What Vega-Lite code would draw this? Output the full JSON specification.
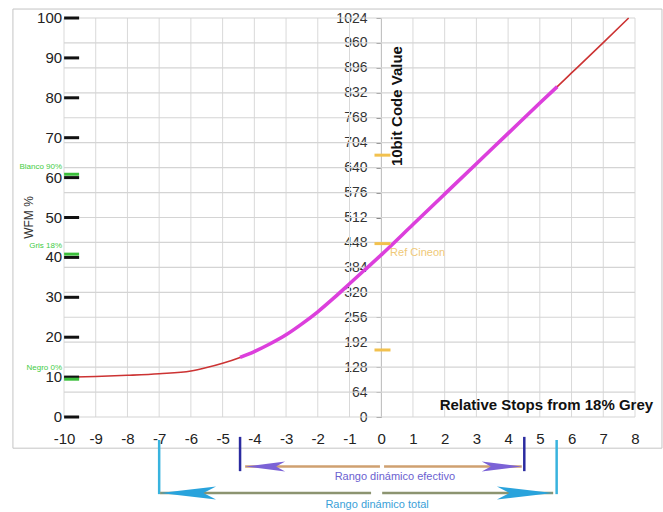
{
  "$schema": "https://vega.github.io/schema/vega-lite/v6.json",
  "autosize": {"type": "none"},
  "padding": {"left": 64, "top": 18, "right": 28, "bottom": 95},
  "width": 571,
  "height": 399,
  "config": {"font": "Liberation Sans", "view": {"stroke": null}, "background": "white"},
  "resolve": {"axis": {"x": "independent", "y": "independent"}},
  "datasets": {
    "curve": [
      {"stop": -10, "code": 102}, {"stop": -9, "code": 104}, {"stop": -8, "code": 107},
      {"stop": -7, "code": 111}, {"stop": -6, "code": 118}, {"stop": -5.5, "code": 127},
      {"stop": -5, "code": 138}, {"stop": -4.45, "code": 153}, {"stop": -4, "code": 168},
      {"stop": -3.5, "code": 188}, {"stop": -3, "code": 211}, {"stop": -2.5, "code": 239},
      {"stop": -2, "code": 270}, {"stop": -1.5, "code": 305}, {"stop": -1, "code": 342},
      {"stop": -0.5, "code": 379}, {"stop": 0, "code": 416}, {"stop": 1, "code": 494},
      {"stop": 2, "code": 572}, {"stop": 3, "code": 650}, {"stop": 4, "code": 728},
      {"stop": 5, "code": 806}, {"stop": 5.55, "code": 848}, {"stop": 6, "code": 883},
      {"stop": 7, "code": 961}, {"stop": 7.8, "code": 1024}
    ],
    "wfm": [
      {"s": -9.76, "code": 0, "wfm": "0"}, {"s": -9.76, "code": 102.4, "wfm": "10"}, {"s": -9.76, "code": 204.8, "wfm": "20"},
      {"s": -9.76, "code": 307.2, "wfm": "30"}, {"s": -9.76, "code": 409.6, "wfm": "40"}, {"s": -9.76, "code": 512, "wfm": "50"},
      {"s": -9.76, "code": 614.4, "wfm": "60"}, {"s": -9.76, "code": 716.8, "wfm": "70"}, {"s": -9.76, "code": 819.2, "wfm": "80"},
      {"s": -9.76, "code": 921.6, "wfm": "90"}, {"s": -9.76, "code": 1024, "wfm": "100"}
    ],
    "hlines": [
      {"g": 0, "s": -10, "code": 0}, {"g": 0, "s": 8, "code": 0},
      {"g": 64, "s": -10, "code": 64}, {"g": 64, "s": 8, "code": 64},
      {"g": 128, "s": -10, "code": 128}, {"g": 128, "s": 8, "code": 128},
      {"g": 192, "s": -10, "code": 192}, {"g": 192, "s": 8, "code": 192},
      {"g": 256, "s": -10, "code": 256}, {"g": 256, "s": 8, "code": 256},
      {"g": 320, "s": -10, "code": 320}, {"g": 320, "s": 8, "code": 320},
      {"g": 384, "s": -10, "code": 384}, {"g": 384, "s": 8, "code": 384},
      {"g": 448, "s": -10, "code": 448}, {"g": 448, "s": 8, "code": 448},
      {"g": 512, "s": -10, "code": 512}, {"g": 512, "s": 8, "code": 512},
      {"g": 576, "s": -10, "code": 576}, {"g": 576, "s": 8, "code": 576},
      {"g": 640, "s": -10, "code": 640}, {"g": 640, "s": 8, "code": 640},
      {"g": 704, "s": -10, "code": 704}, {"g": 704, "s": 8, "code": 704},
      {"g": 768, "s": -10, "code": 768}, {"g": 768, "s": 8, "code": 768},
      {"g": 832, "s": -10, "code": 832}, {"g": 832, "s": 8, "code": 832},
      {"g": 896, "s": -10, "code": 896}, {"g": 896, "s": 8, "code": 896},
      {"g": 960, "s": -10, "code": 960}, {"g": 960, "s": 8, "code": 960},
      {"g": 1024, "s": -10, "code": 1024}, {"g": 1024, "s": 8, "code": 1024}
    ]
  },
  "layer": [
    {
      "data": {"values": [
        {"stop": -10, "c1": 0, "c2": 1024}, {"stop": -9, "c1": 0, "c2": 1024}, {"stop": -8, "c1": 0, "c2": 1024},
        {"stop": -7, "c1": 0, "c2": 1024}, {"stop": -6, "c1": 0, "c2": 1024}, {"stop": -5, "c1": 0, "c2": 1024},
        {"stop": -4, "c1": 0, "c2": 1024}, {"stop": -3, "c1": 0, "c2": 1024}, {"stop": -2, "c1": 0, "c2": 1024},
        {"stop": -1, "c1": 0, "c2": 1024}, {"stop": 0, "c1": 0, "c2": 1024}, {"stop": 1, "c1": 0, "c2": 1024},
        {"stop": 2, "c1": 0, "c2": 1024}, {"stop": 3, "c1": 0, "c2": 1024}, {"stop": 4, "c1": 0, "c2": 1024},
        {"stop": 5, "c1": 0, "c2": 1024}, {"stop": 6, "c1": 0, "c2": 1024}, {"stop": 7, "c1": 0, "c2": 1024},
        {"stop": 8, "c1": 0, "c2": 1024}
      ]},
      "mark": {"type": "rule", "color": "#d9d9d9", "strokeWidth": 1},
      "encoding": {
        "x": {"field": "stop", "type": "quantitative", "scale": {"domain": [-10, 8], "nice": false, "zero": false},
          "axis": {"values": [-10,-9,-8,-7,-6,-5,-4,-3,-2,-1,0,1,2,3,4,5,6,7,8], "labelExpr": "datum.value < 0 ? '-' + abs(datum.value) : '' + datum.value", "labelOverlap": false, "labelFlush": false, "grid": false, "ticks": false, "domain": false, "labelFontSize": 15, "labelColor": "#222", "labelPadding": 14, "title": null}},
        "y": {"field": "c1", "type": "quantitative", "scale": {"domain": [0, 1024], "nice": false, "zero": false},
          "axis": {"orient": "left", "offset": -317, "values": [0,64,128,192,256,320,384,448,512,576,640,704,768,832,896,960,1024], "format": "d", "labelOverlap": false, "labelFlush": false, "grid": false, "ticks": true, "tickSize": 5, "tickColor": "#888", "domain": true, "domainColor": "#888", "labelFontSize": 14, "labelColor": "#333", "labelPadding": 9, "title": null}},
        "y2": {"field": "c2"}
      }
    },
    {
      "data": {"name": "hlines"},
      "mark": {"type": "line", "color": "#d4d4d4", "strokeWidth": 1.2, "interpolate": "linear"},
      "encoding": {
        "x": {"field": "s", "type": "quantitative", "axis": null},
        "y": {"field": "code", "type": "quantitative", "axis": null},
        "detail": {"field": "g", "type": "nominal"}
      }
    },
    {
      "data": {"values": [{"x1": -11.61, "x2": 8.85, "y1": 1047, "y2": -80}]},
      "mark": {"type": "rect", "filled": false, "stroke": "#c4c4c4", "strokeWidth": 1},
      "encoding": {
        "x": {"field": "x1", "type": "quantitative", "axis": null},
        "x2": {"field": "x2"},
        "y": {"field": "y1", "type": "quantitative", "axis": null},
        "y2": {"field": "y2"}
      }
    },
    {
      "data": {"name": "curve"},
      "mark": {"type": "line", "color": "#cc3333", "strokeWidth": 1.6, "interpolate": "monotone"},
      "encoding": {
        "x": {"field": "stop", "type": "quantitative", "axis": null},
        "y": {"field": "code", "type": "quantitative", "axis": null}
      }
    },
    {
      "data": {"name": "curve"},
      "transform": [{"filter": "datum.stop >= -4.45 && datum.stop <= 5.55"}],
      "mark": {"type": "line", "color": "#dc3fdc", "strokeWidth": 3.6, "interpolate": "monotone"},
      "encoding": {
        "x": {"field": "stop", "type": "quantitative", "axis": null},
        "y": {"field": "code", "type": "quantitative", "axis": null}
      }
    },
    {
      "data": {"name": "wfm"},
      "mark": {"type": "tick", "orient": "horizontal", "size": 15, "thickness": 3, "color": "#111", "opacity": 1},
      "encoding": {
        "x": {"field": "s", "type": "quantitative", "axis": null},
        "y": {"field": "code", "type": "quantitative", "axis": null}
      }
    },
    {
      "data": {"name": "wfm"},
      "mark": {"type": "text", "align": "right", "baseline": "middle", "dx": -9.5, "fontSize": 15, "color": "#222"},
      "encoding": {
        "x": {"field": "s", "type": "quantitative", "axis": null},
        "y": {"field": "code", "type": "quantitative", "axis": null},
        "text": {"field": "wfm"}
      }
    },
    {
      "data": {"values": [{"s": -11.1, "code": 512, "label": "WFM %"}]},
      "mark": {"type": "text", "align": "center", "baseline": "middle", "angle": 270, "fontSize": 12, "color": "#333"},
      "encoding": {
        "x": {"field": "s", "type": "quantitative", "axis": null},
        "y": {"field": "code", "type": "quantitative", "axis": null},
        "text": {"field": "label"}
      }
    },
    {
      "data": {"values": [{"x": -9.76, "code": 623}, {"x": -9.76, "code": 418}, {"x": -9.76, "code": 97}]},
      "mark": {"type": "tick", "orient": "horizontal", "size": 15, "thickness": 3, "color": "#3cbf3c", "opacity": 1},
      "encoding": {
        "x": {"field": "x", "type": "quantitative", "axis": null},
        "y": {"field": "code", "type": "quantitative", "axis": null}
      }
    },
    {
      "data": {"values": [{"x": -10.06, "code": 641, "label": "Blanco 90%"}, {"x": -10.06, "code": 438, "label": "Gris 18%"}, {"x": -10.06, "code": 127, "label": "Negro 0%"}]},
      "mark": {"type": "text", "align": "right", "baseline": "middle", "fontSize": 8, "color": "#44cc44"},
      "encoding": {
        "x": {"field": "x", "type": "quantitative", "axis": null},
        "y": {"field": "code", "type": "quantitative", "axis": null},
        "text": {"field": "label"}
      }
    },
    {
      "data": {"values": [{"x": 0.04, "code": 672}, {"x": 0.04, "code": 445}, {"x": 0.04, "code": 172}]},
      "mark": {"type": "tick", "orient": "horizontal", "size": 16, "thickness": 3, "color": "#f2c14e", "opacity": 1},
      "encoding": {
        "x": {"field": "x", "type": "quantitative", "axis": null},
        "y": {"field": "code", "type": "quantitative", "axis": null}
      }
    },
    {
      "data": {"values": [{"x": 0.28, "code": 420, "label": "Ref  Cineon"}]},
      "mark": {"type": "text", "align": "left", "baseline": "middle", "fontSize": 11, "color": "#efc978"},
      "encoding": {
        "x": {"field": "x", "type": "quantitative", "axis": null},
        "y": {"field": "code", "type": "quantitative", "axis": null},
        "text": {"field": "label"}
      }
    },
    {
      "data": {"values": [{"x": 0.5, "code": 798, "label": "10bit Code Value"}]},
      "mark": {"type": "text", "align": "center", "baseline": "middle", "angle": 270, "fontSize": 15, "fontWeight": "bold", "color": "#111"},
      "encoding": {
        "x": {"field": "x", "type": "quantitative", "axis": null},
        "y": {"field": "code", "type": "quantitative", "axis": null},
        "text": {"field": "label"}
      }
    },
    {
      "data": {"values": [{"x": 8.57, "code": 31, "label": "Relative Stops from 18% Grey"}]},
      "mark": {"type": "text", "align": "right", "baseline": "middle", "fontSize": 15, "fontWeight": "bold", "color": "#111"},
      "encoding": {
        "x": {"field": "x", "type": "quantitative", "axis": null},
        "y": {"field": "code", "type": "quantitative", "axis": null},
        "text": {"field": "label"}
      }
    },
    {
      "data": {"values": [{"x": -4.45, "y1": -51, "y2": -139}, {"x": 4.51, "y1": -51, "y2": -139}]},
      "mark": {"type": "rule", "color": "#2b2ba0", "strokeWidth": 2.5},
      "encoding": {
        "x": {"field": "x", "type": "quantitative", "axis": null},
        "y": {"field": "y1", "type": "quantitative", "axis": null},
        "y2": {"field": "y2"}
      }
    },
    {
      "data": {"values": [{"x": -7.0, "y1": -59, "y2": -198}, {"x": 5.53, "y1": -59, "y2": -198}]},
      "mark": {"type": "rule", "color": "#38b3de", "strokeWidth": 2.5},
      "encoding": {
        "x": {"field": "x", "type": "quantitative", "axis": null},
        "y": {"field": "y1", "type": "quantitative", "axis": null},
        "y2": {"field": "y2"}
      }
    },
    {
      "data": {"values": [{"x1": -4.29, "x2": -0.04, "y": -127}, {"x1": 0.09, "x2": 4.43, "y": -127}]},
      "mark": {"type": "rule", "color": "#cfa070", "strokeWidth": 2.5},
      "encoding": {
        "x": {"field": "x1", "type": "quantitative", "axis": null},
        "x2": {"field": "x2"},
        "y": {"field": "y", "type": "quantitative", "axis": null}
      }
    },
    {
      "data": {"values": [{"x1": -6.97, "x2": -0.32, "y": -195}, {"x1": 0.03, "x2": 5.42, "y": -195}]},
      "mark": {"type": "rule", "color": "#8c9470", "strokeWidth": 2.5},
      "encoding": {
        "x": {"field": "x1", "type": "quantitative", "axis": null},
        "x2": {"field": "x2"},
        "y": {"field": "y", "type": "quantitative", "axis": null}
      }
    },
    {
      "data": {"values": [{"x": -3.66, "y": -127}]},
      "mark": {"type": "point", "shape": "M -1 0 L 1 -0.25 L 0.55 0 L 1 0.25 Z", "filled": true, "size": 1600, "opacity": 1, "color": "#7b62d6"},
      "encoding": {
        "x": {"field": "x", "type": "quantitative", "axis": null},
        "y": {"field": "y", "type": "quantitative", "axis": null}
      }
    },
    {
      "data": {"values": [{"x": 3.8, "y": -127}]},
      "mark": {"type": "point", "shape": "M 1 0 L -1 -0.25 L -0.55 0 L -1 0.25 Z", "filled": true, "size": 1600, "opacity": 1, "color": "#7b62d6"},
      "encoding": {
        "x": {"field": "x", "type": "quantitative", "axis": null},
        "y": {"field": "y", "type": "quantitative", "axis": null}
      }
    },
    {
      "data": {"values": [{"x": -6.09, "y": -195}]},
      "mark": {"type": "point", "shape": "M -1 0 L 1 -0.23 L 0.55 0 L 1 0.23 Z", "filled": true, "size": 3136, "opacity": 1, "color": "#29a3dc"},
      "encoding": {
        "x": {"field": "x", "type": "quantitative", "axis": null},
        "y": {"field": "y", "type": "quantitative", "axis": null}
      }
    },
    {
      "data": {"values": [{"x": 4.53, "y": -195}]},
      "mark": {"type": "point", "shape": "M 1 0 L -1 -0.23 L -0.55 0 L -1 0.23 Z", "filled": true, "size": 3136, "opacity": 1, "color": "#29a3dc"},
      "encoding": {
        "x": {"field": "x", "type": "quantitative", "axis": null},
        "y": {"field": "y", "type": "quantitative", "axis": null}
      }
    },
    {
      "data": {"values": [{"x": 0.43, "y": -154, "label": "Rango dinámico efectivo"}]},
      "mark": {"type": "text", "align": "center", "baseline": "middle", "fontSize": 11, "color": "#6b5fd0"},
      "encoding": {
        "x": {"field": "x", "type": "quantitative", "axis": null},
        "y": {"field": "y", "type": "quantitative", "axis": null},
        "text": {"field": "label"}
      }
    },
    {
      "data": {"values": [{"x": -0.13, "y": -226, "label": "Rango dinámico total"}]},
      "mark": {"type": "text", "align": "center", "baseline": "middle", "fontSize": 11, "color": "#3a9fd8"},
      "encoding": {
        "x": {"field": "x", "type": "quantitative", "axis": null},
        "y": {"field": "y", "type": "quantitative", "axis": null},
        "text": {"field": "label"}
      }
    }
  ]
}
